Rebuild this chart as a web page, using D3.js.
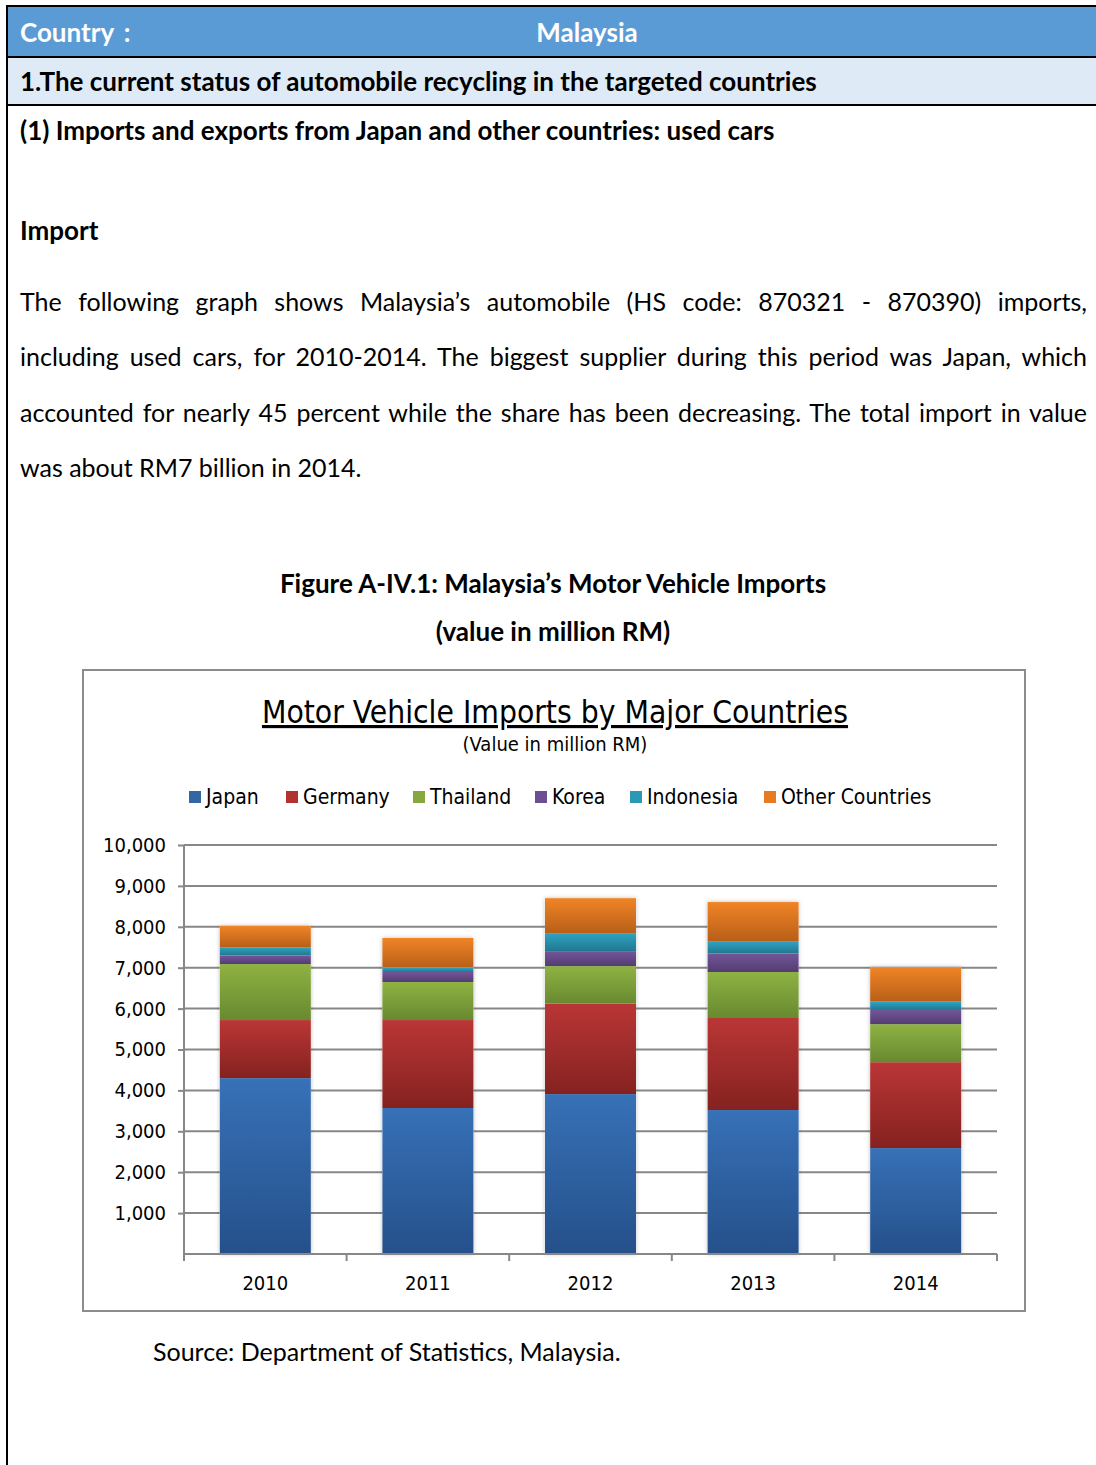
<!DOCTYPE html>
<html lang="en">
<head>
    <meta charset="UTF-8">
    <title>Malaysia Motor Vehicle Imports</title>
    <style>
        body { margin: 0; background: #fff; }
        svg { display: block; }
    </style>
</head>
<body>
    <svg id="page" width="1096" height="1465"></svg>

    <script src="https://d3js.org/d3.v7.min.js"></script>
    <script>
        // Chart data (million RM)
        const years = ["2010", "2011", "2012", "2013", "2014"];
        const seriesNames = ["Japan", "Germany", "Thailand", "Korea", "Indonesia", "Other Countries"];
        const japan = [4300, 3570, 3910, 3520, 2590];
        const germany = [1420, 2150, 2210, 2250, 2100];
        const thailand = [1370, 930, 920, 1125, 930];
        const korea = [210, 245, 365, 455, 345];
        const indonesia = [200, 105, 440, 300, 205];
        const others = [520, 726, 855, 955, 845];
        const yTicks = [1000, 2000, 3000, 4000, 5000, 6000, 7000, 8000, 9000, 10000];

        // gradient colours per series: [top, bottom, legend]
        const palette = [
            ["#3771b7", "#25508a", "#3465a4"],
            ["#ba3636", "#84221f", "#b2322f"],
            ["#8fb243", "#68892f", "#86a83e"],
            ["#735699", "#533c72", "#6b4f92"],
            ["#2fa3c3", "#21788f", "#2b98b6"],
            ["#f08426", "#b85f18", "#e87b22"]
        ];

        const docFont = "Lato, 'Open Sans', sans-serif";
        const chartFont = "'DejaVu Sans Condensed', 'Liberation Sans Narrow', sans-serif";

        const svg = d3.select("#page");

        // ---- document header table ----
        svg.append("rect").attr("x", 7).attr("y", 7).attr("width", 1089).attr("height", 50).attr("fill", "#5b9bd5");
        svg.append("rect").attr("x", 7).attr("y", 57).attr("width", 1089).attr("height", 48).attr("fill", "#deebf7");
        [6, 57, 105].forEach(y => {
            svg.append("line").attr("x1", 6).attr("x2", 1096).attr("y1", y).attr("y2", y)
                .attr("stroke", "#000").attr("stroke-width", 2);
        });
        svg.append("line").attr("x1", 7).attr("x2", 7).attr("y1", 5).attr("y2", 1465)
            .attr("stroke", "#000").attr("stroke-width", 2);

        function docText(x, y, str, opts = {}) {
            return svg.append("text")
                .attr("x", x).attr("y", y)
                .attr("font-family", docFont)
                .attr("font-size", opts.size || (opts.bold ? 26 : 25))
                .attr("font-weight", opts.bold ? "bold" : "normal")
                .attr("fill", opts.fill || "#000")
                .attr("text-anchor", opts.anchor || "start")
                .text(str);
        }

        docText(20, 42, "Country :", { bold: true, fill: "#fff" }).style("word-spacing", "4px");
        docText(587, 42, "Malaysia", { bold: true, fill: "#fff", anchor: "middle" });
        docText(20, 91, "1.The current status of automobile recycling in the targeted countries", { bold: true });
        docText(20, 140, "(1) Imports and exports from Japan and other countries: used cars", { bold: true });
        docText(20, 240, "Import", { bold: true });

        // justified paragraph
        const paraLines = [
            "The following graph shows Malaysia’s automobile (HS code: 870321 - 870390) imports,",
            "including used cars, for 2010-2014. The biggest supplier during this period was Japan, which",
            "accounted for nearly 45 percent while the share has been decreasing. The total import in value",
            "was about RM7 billion in 2014."
        ];
        paraLines.forEach((line, i) => {
            const t = docText(20, 311 + i * 55.3, line);
            if (i < paraLines.length - 1) {
                const w = t.node().getComputedTextLength();
                const gaps = line.split(" ").length - 1;
                t.style("word-spacing", ((1067 - w) / gaps) + "px");
            }
        });

        docText(553, 593, "Figure A-IV.1: Malaysia’s Motor Vehicle Imports", { bold: true, anchor: "middle" });
        docText(553, 641, "(value in million RM)", { bold: true, anchor: "middle" });
        docText(153, 1361, "Source: Department of Statistics, Malaysia.");

        // ---- chart box ----
        svg.append("rect").attr("x", 83).attr("y", 670).attr("width", 942).attr("height", 641)
            .attr("fill", "#fff").attr("stroke", "#8c8c8c").attr("stroke-width", 2);

        svg.append("text")
            .attr("x", 555).attr("y", 723)
            .attr("text-anchor", "middle")
            .attr("font-family", chartFont)
            .attr("font-size", 31.5)
            .attr("text-decoration", "underline")
            .text("Motor Vehicle Imports by Major Countries");
        svg.append("text")
            .attr("x", 555).attr("y", 751)
            .attr("text-anchor", "middle")
            .attr("font-family", chartFont)
            .attr("font-size", 20)
            .text("(Value in million  RM)");

        // gradients
        const defs = svg.append("defs");
        palette.forEach((c, i) => {
            const g = defs.append("linearGradient").attr("id", "grad" + i)
                .attr("x1", 0).attr("y1", 0).attr("x2", 0).attr("y2", 1);
            g.append("stop").attr("offset", "0%").attr("stop-color", c[0]);
            g.append("stop").attr("offset", "100%").attr("stop-color", c[1]);
        });
        const shadow = defs.append("filter").attr("id", "shadow")
            .attr("x", "-10%").attr("y", "-10%").attr("width", "120%").attr("height", "120%");
        shadow.append("feDropShadow").attr("dx", 0).attr("dy", 0).attr("stdDeviation", 2)
            .attr("flood-color", "#000").attr("flood-opacity", 0.25);

        // legend
        const legendX = [189, 286, 413, 535, 630, 764];
        const legend = svg.append("g").selectAll("g").data(seriesNames).enter().append("g")
            .attr("transform", (d, i) => `translate(${legendX[i]},797)`);
        legend.append("rect").attr("x", 0).attr("y", -6).attr("width", 12).attr("height", 12)
            .attr("fill", (d, i) => palette[i][2]);
        legend.append("text").attr("x", 17).attr("y", 7)
            .attr("font-family", chartFont).attr("font-size", 21)
            .text(d => d);

        // scales
        const x = d3.scaleBand().domain(years).range([184, 997]).paddingInner(0.44).paddingOuter(0.22);
        const y = d3.scaleLinear().domain([0, 10000]).range([1254, 845]);

        // gridlines
        svg.append("g").selectAll("line").data(yTicks).enter().append("line")
            .attr("x1", 184).attr("x2", 997)
            .attr("y1", d => y(d)).attr("y2", d => y(d))
            .attr("stroke", "#878787").attr("stroke-width", 2);

        // stacked bars
        const rows = years.map((yr, i) => ({
            year: yr,
            "Japan": japan[i], "Germany": germany[i], "Thailand": thailand[i],
            "Korea": korea[i], "Indonesia": indonesia[i], "Other Countries": others[i]
        }));
        const stacked = d3.stack().keys(seriesNames)(rows);
        const topLayer = stacked[stacked.length - 1];

        const barsG = svg.append("g");
        // soft shadow behind whole bar
        barsG.selectAll("rect.bg").data(rows).enter().append("rect")
            .attr("class", "bg")
            .attr("x", d => x(d.year))
            .attr("width", x.bandwidth())
            .attr("y", (d, i) => y(topLayer[i][1]))
            .attr("height", (d, i) => y(0) - y(topLayer[i][1]))
            .attr("fill", "#fff")
            .attr("filter", "url(#shadow)");
        barsG.selectAll("g.series").data(stacked).enter().append("g")
            .attr("class", "series")
            .attr("fill", (d, i) => `url(#grad${i})`)
            .selectAll("rect").data(d => d).enter().append("rect")
            .attr("x", d => x(d.data.year))
            .attr("width", x.bandwidth())
            .attr("y", d => y(d[1]))
            .attr("height", d => y(d[0]) - y(d[1]));

        // y axis
        const yAxis = svg.append("g").attr("transform", "translate(184,0)")
            .call(d3.axisLeft(y).tickValues(yTicks).tickSize(6).tickPadding(12).tickFormat(d3.format(",")));
        yAxis.select(".domain").attr("stroke", "#878787").attr("stroke-width", 2).attr("d", "M0,845V1260");
        yAxis.selectAll(".tick line").attr("stroke", "#878787").attr("stroke-width", 2);
        yAxis.selectAll(".tick text").attr("font-family", chartFont).attr("font-size", 20).attr("fill", "#000");

        // x axis
        const xAxis = svg.append("g").attr("transform", "translate(0,1254)")
            .call(d3.axisBottom(x).tickSize(0).tickPadding(22));
        xAxis.select(".domain").attr("stroke", "#878787").attr("stroke-width", 2).attr("d", "M184,0H997");
        xAxis.selectAll(".tick text").attr("font-family", chartFont).attr("font-size", 20).attr("fill", "#000");
        const bounds = years.map(d => x(d) - x.step() * x.paddingInner() / 2).concat([997]);
        xAxis.append("g").selectAll("line").data(bounds).enter().append("line")
            .attr("x1", d => d).attr("x2", d => d).attr("y1", 0).attr("y2", 7)
            .attr("stroke", "#878787").attr("stroke-width", 2);
    </script>
</body>
</html>
